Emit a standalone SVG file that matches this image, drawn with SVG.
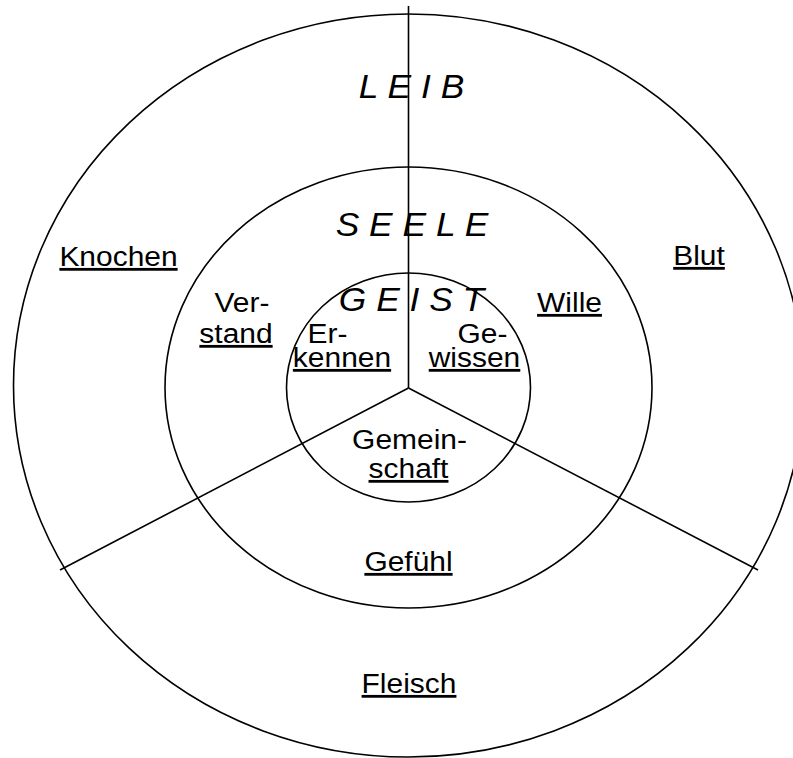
<svg xmlns="http://www.w3.org/2000/svg" width="793" height="758" viewBox="0 0 793 758">
<style>
.ring{fill:none;stroke:#000;stroke-width:1.6}
.conn{fill:none;stroke:#000;stroke-width:1.6}
.t{font-family:"Liberation Sans",Arial,sans-serif;font-size:28px;fill:#000;text-anchor:middle}
.u{text-decoration:underline}
.title{font-family:"Liberation Sans",Arial,sans-serif;font-size:34px;font-style:italic;fill:#000;text-anchor:middle}
</style>
<rect width="793" height="758" fill="#fff"/>
<g id="leib">
<ellipse class="ring" cx="408.5" cy="385.5" rx="395" ry="371.5"/>
<text class="title" transform="translate(411.5,98) scale(1.04,1)">L E I B</text>
<text class="t u" transform="translate(118.5,266) scale(1.07,1)">Knochen</text>
<text class="t u" transform="translate(699,265) scale(1.07,1)">Blut</text>
<text class="t u" transform="translate(409,693) scale(1.07,1)">Fleisch</text>
</g>
<g id="seele">
<ellipse class="ring" cx="408.5" cy="387.5" rx="243.5" ry="220.5"/>
<text class="title" transform="translate(412,236) scale(1.04,1)">S E E L E</text>
<text class="t" transform="translate(242,312) scale(1.07,1)">Ver-</text>
<text class="t u" transform="translate(236,343) scale(1.07,1)">stand</text>
<text class="t u" transform="translate(569.5,312) scale(1.07,1)">Wille</text>
<text class="t u" transform="translate(408.5,571) scale(1.07,1)">Gefühl</text>
</g>
<g id="geist">
<ellipse class="ring" cx="408.5" cy="387.5" rx="122" ry="114.5"/>
<text class="title" transform="translate(411.5,311) scale(1.04,1)">G E I S T</text>
<text class="t" transform="translate(327.5,343) scale(1.07,1)">Er-</text>
<text class="t u" transform="translate(342,367) scale(1.07,1)">kennen</text>
<text class="t" transform="translate(482.5,343) scale(1.07,1)">Ge-</text>
<text class="t u" transform="translate(474.5,367) scale(1.07,1)">wissen</text>
<text class="t" transform="translate(409.5,449) scale(1.07,1)">Gemein-</text>
<text class="t u" transform="translate(408.5,478) scale(1.07,1)">schaft</text>
</g>
<g id="connectors">
<path class="conn" d="M408.5,6 V388"/>
<path class="conn" d="M408.5,388 L60,570"/>
<path class="conn" d="M408.5,388 L758,570"/>
</g>
</svg>
